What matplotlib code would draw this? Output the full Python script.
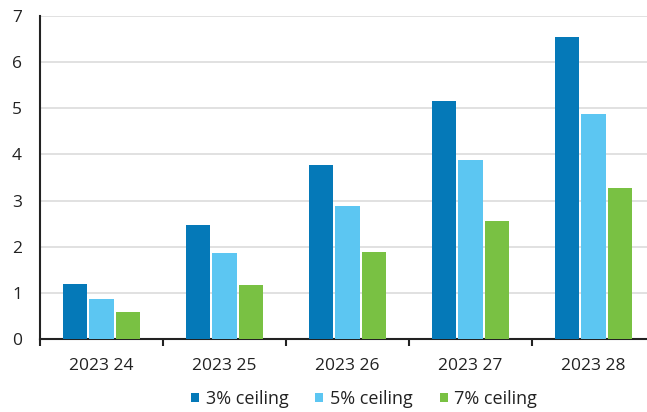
import matplotlib
matplotlib.use("Agg")
import matplotlib.pyplot as plt
import numpy as np

categories = ["2023 24", "2023 25", "2023 26", "2023 27", "2023 28"]
series_names = ["3% ceiling", "5% ceiling", "7% ceiling"]
s3 = [1.19, 2.47, 3.77, 5.16, 6.54]
s5 = [0.87, 1.87, 2.89, 3.87, 4.88]
s7 = [0.58, 1.18, 1.88, 2.56, 3.27]
yticks = [0, 1, 2, 3, 4, 5, 6, 7]

colors = ["#0579B8", "#5CC6F2", "#79C143"]

plt.rcParams['font.family'] = ['Open Sans', 'DejaVu Sans']

fig = plt.figure(figsize=(6.47, 4.12), dpi=100)
ax = fig.add_axes([40/647, 73/412, 615/647, 323/412])

x = np.arange(len(categories))
w = 0.2
step = 0.215
for i, (vals, name) in enumerate(zip([s3, s5, s7], series_names)):
    ax.bar(x + (i - 1) * step, vals, width=w, color=colors[i], label=name, zorder=3)

ax.set_xlim(-0.5, len(categories) - 0.5)
ax.set_ylim(0, 7)
ax.set_yticks(yticks)
ax.set_yticklabels([str(t) for t in yticks], fontsize=12.5, color="#222222")
ax.yaxis.grid(True, color="#DCDCDC", linewidth=1.2, zorder=0)
ax.tick_params(axis='y', length=0, pad=13)

ax.set_xticks(x)
ax.set_xticklabels(categories, fontsize=12.5, color="#222222")
ax.set_xticks(np.arange(len(categories)) - 0.5, minor=True)
ax.tick_params(axis='x', which='major', length=0, pad=14)
ax.tick_params(axis='x', which='minor', length=5, width=1.5, color="#222222", direction='out')

for s in ["top", "right"]:
    ax.spines[s].set_visible(False)
ax.spines["left"].set_linewidth(1.5)
ax.spines["bottom"].set_linewidth(1.5)
ax.spines["left"].set_color("#222222")
ax.spines["bottom"].set_color("#222222")

leg = fig.legend(loc="center", bbox_to_anchor=(364/647, 1 - 399/412), ncol=3,
                 frameon=False, fontsize=13, handlelength=0.45, handleheight=0.45,
                 handletextpad=0.35, columnspacing=1.5)
for t in leg.get_texts():
    t.set_color("#222222")

fig.savefig("out.png", dpi=100)
